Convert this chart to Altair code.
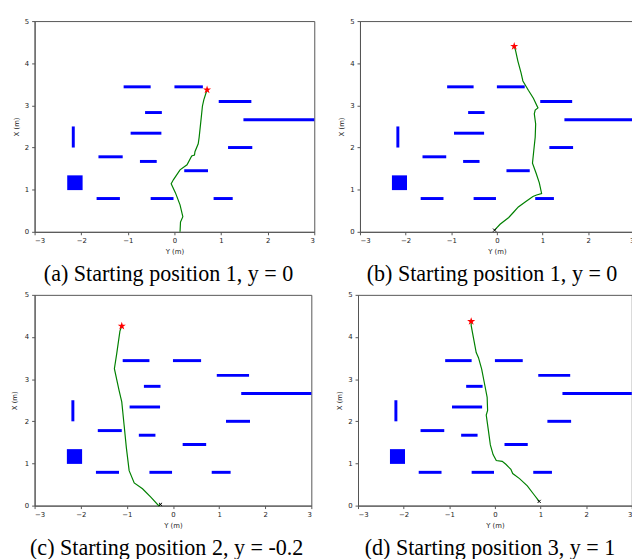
import altair as alt
import pandas as pd

# Obstacles: (Y start, Y end, X start, X end)
obs_y1 = [-1.09, 0.00, 0.95, -0.63, 1.48, -0.94, -2.17, 1.15, -1.63, -0.74, 0.21, -1.67, -0.51, 0.84]
obs_y2 = [-0.51, 0.61, 1.65, -0.27, 3.00, -0.28, -2.17, 1.67, -1.11, -0.38, 0.72, -1.17, -0.02, 1.25]
obs_x1 = [3.44, 3.44, 3.09, 2.83, 2.66, 2.34, 2.00, 2.00, 1.78, 1.67, 1.45, 0.79, 0.79, 0.79]
obs_x2 = [3.44, 3.44, 3.09, 2.83, 2.66, 2.34, 2.50, 2.00, 1.78, 1.67, 1.45, 0.79, 0.79, 0.79]

# Square obstacle
sq_y1, sq_y2, sq_x1, sq_x2 = -2.30, -1.97, 0.99, 1.34

# Trajectories (lateral Y, forward X)
traj_a_y = [0.12, 0.13, 0.18, 0.12, 0.02, -0.07, -0.02, 0.12, 0.27, 0.37, 0.43, 0.44, 0.51, 0.53, 0.575, 0.60, 0.63, 0.67, 0.70]
traj_a_x = [0.00, 0.23, 0.36, 0.64, 0.93, 1.14, 1.24, 1.47, 1.59, 1.80, 1.82, 1.90, 2.09, 2.24, 2.71, 2.98, 3.13, 3.27, 3.37]

traj_b_y = [-0.05, 0.07, 0.26, 0.37, 0.47, 0.62, 0.79, 0.87, 0.98, 0.93, 0.86, 0.78, 0.81, 0.84, 0.85, 0.82, 0.84, 0.90, 0.80, 0.69, 0.57, 0.53, 0.46, 0.41, 0.38]
traj_b_x = [0.04, 0.18, 0.34, 0.47, 0.59, 0.71, 0.84, 0.875, 0.91, 1.16, 1.39, 1.63, 1.94, 2.25, 2.56, 2.80, 2.89, 2.94, 3.17, 3.36, 3.58, 3.77, 4.05, 4.30, 4.40]

traj_c_y = [-0.27, -0.31, -0.48, -0.66, -0.84, -0.95, -1.01, -1.06, -1.11, -1.17, -1.27, -1.22, -1.15, -1.11]
traj_c_x = [0.03, 0.00, 0.20, 0.40, 0.54, 0.83, 1.37, 1.92, 2.46, 2.74, 3.25, 3.60, 4.14, 4.26]

traj_d_y = [0.97, 0.85, 0.71, 0.54, 0.39, 0.35, 0.24, 0.16, 0.03, -0.04, -0.10, -0.14, -0.19, -0.16, -0.17, -0.22, -0.29, -0.36, -0.41, -0.47, -0.52, -0.52]
traj_d_x = [0.10, 0.27, 0.47, 0.64, 0.76, 0.86, 0.98, 1.05, 1.07, 1.21, 1.44, 1.76, 2.15, 2.26, 2.57, 2.85, 3.24, 3.51, 3.63, 3.98, 4.27, 4.37]

show_start = [False, True, True, True]

captions = [
    "(a) Starting position 1, y = 0",
    "(b) Starting position 1, y = 0",
    "(c) Starting position 2, y = -0.2",
    "(d) Starting position 3, y = 1",
]

x_ticks = [-3, -2, -1, 0, 1, 2, 3]
y_ticks = [0, 1, 2, 3, 4, 5]

STAR = "M0,-1L0.225,-0.309L0.951,-0.309L0.363,0.118L0.588,0.809L0,0.382L-0.588,0.809L-0.363,0.118L-0.951,-0.309L-0.225,-0.309Z"
XMARK = "M-1,-1L1,1M1,-1L-1,1"

obs_df = pd.DataFrame({"y1": obs_y1, "y2": obs_y2, "x1": obs_x1, "x2": obs_x2})
sq_df = pd.DataFrame({"y1": [sq_y1], "y2": [sq_y2], "x1": [sq_x1], "x2": [sq_x2]})

xs = alt.Scale(domain=[-3, 3], nice=False, zero=False)
ys = alt.Scale(domain=[0, 5], nice=False, zero=False)

H = 214


def panel(ty, tx, start, caption, w, ytp, dx):
    tdf = pd.DataFrame({"Y": ty, "X": tx, "i": list(range(len(ty)))})
    xax = alt.Axis(values=x_ticks, title="Y (m)", grid=False, format="d",
                   tickSize=3, labelPadding=2, titlePadding=4)
    yax = alt.Axis(values=y_ticks, title="X (m)", grid=False, format="d",
                   tickSize=3, labelPadding=3, titlePadding=ytp)
    bars = alt.Chart(obs_df).mark_rule(color="#0000ff", strokeWidth=3, strokeCap="butt").encode(
        x=alt.X("y1:Q", scale=xs, axis=xax),
        x2="y2",
        y=alt.Y("x1:Q", scale=ys, axis=yax),
        y2="x2",
    )
    sq = alt.Chart(sq_df).mark_rect(color="#0000ff").encode(
        x=alt.X("y1:Q", scale=xs), x2="y2", y=alt.Y("x1:Q", scale=ys), y2="x2"
    )
    line = alt.Chart(tdf).mark_line(color="#008000", strokeWidth=1.2).encode(
        x=alt.X("Y:Q", scale=xs), y=alt.Y("X:Q", scale=ys), order="i:Q"
    )
    end = alt.Chart(tdf.tail(1)).mark_point(shape=STAR, filled=True, color="#ff0000", size=75, opacity=1).encode(
        x=alt.X("Y:Q", scale=xs), y=alt.Y("X:Q", scale=ys)
    )
    layers = [bars, sq, line, end]
    if start:
        st = alt.Chart(tdf.head(1)).mark_point(shape=XMARK, filled=False, color="black", size=10, strokeWidth=1, opacity=1).encode(
            x=alt.X("Y:Q", scale=xs), y=alt.Y("X:Q", scale=ys)
        )
        layers.append(st)
    return alt.layer(*layers).properties(
        width=w, height=H,
        title=alt.TitleParams(caption, orient="bottom", anchor="middle", frame="group",
                              font="Liberation Serif", fontSize=22.4, fontWeight="normal",
                              color="black", offset=9, dx=dx),
    )


pa = panel(traj_a_y, traj_a_x, show_start[0], captions[0], 284, 5, -6)
pb = panel(traj_b_y, traj_b_x, show_start[1], captions[1], 278, 5, -4.9)
pc = panel(traj_c_y, traj_c_x, show_start[2], captions[2], 281, 7, -6.4)
pd_ = panel(traj_d_y, traj_d_x, show_start[3], captions[3], 278, 5, -5.0)

chart = alt.vconcat(
    alt.hconcat(pa, pb, spacing=21.4),
    alt.hconcat(pc, pd_, spacing=22.4),
    spacing=4,
).properties(
    padding={"left": 2, "top": 4, "right": -4.4, "bottom": 0}
).configure_view(
    stroke="#555", strokeWidth=1
).configure_axis(
    labelFont="DejaVu Sans", titleFont="DejaVu Sans", labelFontSize=7, titleFontSize=7,
    labelColor="#222", titleColor="#222", titleFontWeight="normal",
    domainColor="#555", tickColor="#555"
)

chart.save("out.html", embed_options={"renderer": "svg", "actions": False})
